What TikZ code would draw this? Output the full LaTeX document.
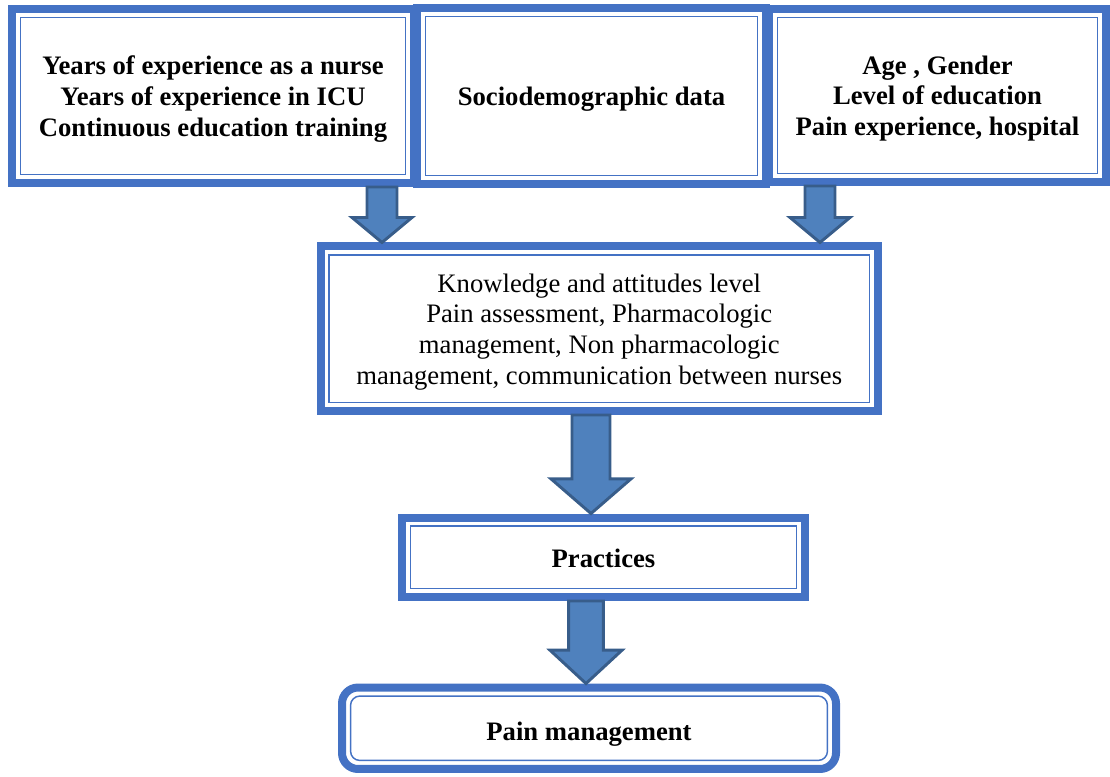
\documentclass[tikz,border=0pt]{standalone}
\usepackage{fontspec}
\setmainfont{Liberation Serif}
\usetikzlibrary{calc}
\definecolor{frameblue}{HTML}{4472C4}
\definecolor{arrowfill}{HTML}{4F81BD}
\definecolor{arrowedge}{HTML}{385D8A}
\tikzstyle{frameNode} = [rectangle, draw=frameblue, fill=white, line width=6pt, outer sep=3pt, align=center, font=\fontsize{20pt}{23pt}\selectfont]
\tikzstyle{roundNode} = [frameNode, rounded corners=12pt]
\tikzstyle{innerLine} = [draw=frameblue, line width=1.1pt]
\tikzstyle{blockArrow} = [fill=arrowfill, draw=arrowedge, line width=2.2pt, line join=miter]
% block arrow: start, end, half shaft, half head, head length
\newcommand{\blockarrow}[5]{%
  \draw[blockArrow] let \p1=#1, \p2=#2 in
    (\x1-#3,\y1) -- (\x1+#3,\y1) -- (\x1+#3,\y2+#5) -- (\x1+#4,\y2+#5)
    -- (\x1,\y2) -- (\x1-#4,\y2+#5) -- (\x1-#3,\y2+#5) -- cycle;}

\begin{document}
\begin{tikzpicture}[x=0.75pt, y=-0.75pt]
    \useasboundingbox (0,0) rectangle (1110,776);
    \node (exp) [frameNode, minimum width=301.5pt, minimum height=130.5pt, text depth=-4pt] at (213,96) {\bfseries Years of experience as a nurse\\\bfseries Years of experience in ICU\\\bfseries Continuous education training};
    \node (pers) [frameNode, minimum width=252.75pt, minimum height=129.75pt, text depth=-4pt] at (937.5,95.5) {\bfseries Age , Gender\\\bfseries Level of education\\\bfseries Pain experience, hospital};
    \draw [innerLine] ([shift={(9.4pt,-9.4pt)}]exp.north west) rectangle ([shift={(-9.4pt,9.4pt)}]exp.south east);
    \draw [innerLine] ([shift={(9.4pt,-9.4pt)}]pers.north west) rectangle ([shift={(-9.4pt,9.4pt)}]pers.south east);
    \node (socio) [frameNode, minimum width=261.75pt, minimum height=132pt, text depth=-4pt] at (591.5,96) {\bfseries Sociodemographic data};
    \node (know) [frameNode, minimum width=418pt, minimum height=123.4pt, text depth=0pt] at (599.25,328.75) {Knowledge and attitudes level\\Pain assessment, Pharmacologic\\management, Non pharmacologic\\management, communication between nurses};
    \node (prac) [frameNode, minimum width=302.25pt, minimum height=59.6pt, text height=16pt, text depth=0pt] at (603.5,557.25) {\bfseries Practices};
    \node (pain) [roundNode, minimum width=370.5pt, minimum height=61.1pt, text height=18pt, text depth=0pt] at (589,728.25) {\bfseries Pain management};

    \foreach \n in {socio, know, prac}
        \draw [innerLine] ([shift={(9.4pt,-9.4pt)}]\n.north west) rectangle ([shift={(-9.4pt,9.4pt)}]\n.south east);
    \draw [innerLine, rounded corners=7pt] ([shift={(9.4pt,-9.4pt)}]pain.north west) rectangle ([shift={(-9.4pt,9.4pt)}]pain.south east);

    \blockarrow{(exp.south -| 382,0)}{(know.north -| 382,0)}{11.25pt}{22.5pt}{18.75pt}
    \blockarrow{(pers.south -| 820,0)}{(know.north -| 820,0)}{11.25pt}{22.5pt}{18.75pt}
    \blockarrow{(know.south -| 591,0)}{(prac.north -| 591,0)}{14.25pt}{30pt}{26pt}
    \blockarrow{(prac.south -| 586,0)}{(pain.north -| 586,0)}{13pt}{27pt}{25pt}
\end{tikzpicture}
\end{document}
